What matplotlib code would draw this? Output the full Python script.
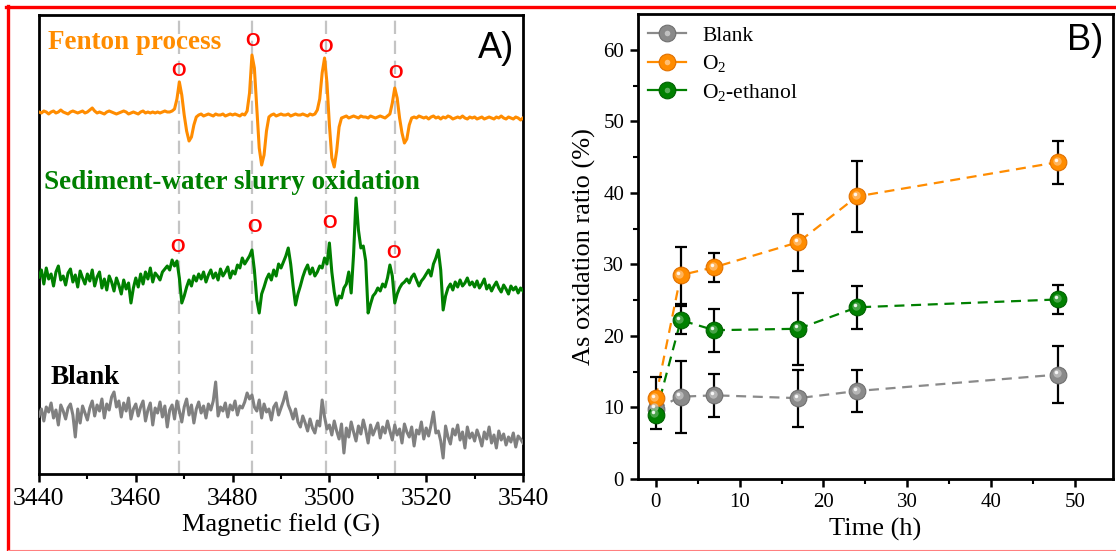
import numpy as np
import matplotlib
matplotlib.use("Agg")
import matplotlib.pyplot as plt
from matplotlib.lines import Line2D
from matplotlib.transforms import offset_copy
from matplotlib.legend_handler import HandlerTuple

plt.rcParams['font.family'] = 'Liberation Serif'
plt.rcParams['mathtext.fontset'] = 'custom'
plt.rcParams['mathtext.rm'] = 'Liberation Serif'
plt.rcParams['mathtext.it'] = 'Liberation Serif:italic'

# --- A) EPR spectra, 3440-3540 G sampled every 0.5 G (arbitrary units) ---
FIELD_START, FIELD_STEP = 3440.0, 0.5

fenton = [
    1, 0, 2, 1, -1, 1, 2, 0, 1, 3, 1, 0, -1, 1, 2, 1, 0, 1, 2, 0,
    1, 3, 5, 2, 0, 1, 0, -1, 1, 2, 1, 0, -1, 0, 1, 2, 1, -1, 0, 1,
    0, -1, 1, 2, 0, 1, 0, 1, 0, 1, 0, 1, 2, 1, 1, 2, 4, 14, 31, 18,
    -2, -18, -28, -24, -12, -4, -2, -1, -3, -2, -1, -2, -3, -1, -2, -2, -1, -3, -2, -1,
    -2, -1, -2, -3, -1, -2, 2, 20, 58, 45, 5, -35, -52, -42, -18, -4, -2, -1, -3, -2,
    -1, -2, -2, -1, -3, -2, -1, -2, -2, -1, -2, -3, -1, -2, -1, 3, 14, 40, 55, 30,
    -12, -45, -54, -38, -14, -5, -4, -3, -5, -4, -3, -4, -5, -3, -4, -4, -5, -3, -4, -5,
    -4, -3, -4, -5, -3, -1, 10, 25, 15, -5, -20, -30, -26, -12, -5, -4, -5, -3, -4, -5,
    -4, -6, -4, -3, -5, -4, -6, -4, -5, -3, -4, -6, -5, -4, -5, -3, -5, -6, -4, -5,
    -4, -6, -5, -4, -6, -5, -4, -5, -6, -4, -5, -3, -5, -6, -4, -5, -6, -4, -5, -7,
    -5,
]

slurry = [
    5, 12, -2, 14, 3, 8, -4, 10, 16, 2, 6, -3, 9, 13, 0, 7, -5, 11, 4, -2,
    8, 1, 12, -4, 5, 10, -6, 3, -8, 6, 0, -9, 4, -3, -12, 2, -7, -1, -21, -6,
    4, -5, 8, -2, 10, 3, 14, 0, 9, 6, 2, 10, 13, 16, 12, 22, 16, 21, 4, -21,
    -14, -5, 2, -4, 6, 1, 8, 3, 10, 0, 7, 12, 4, 9, 2, 13, 6, 10, 15, 4,
    11, 8, 17, 14, 24, 18, 22, 26, 32, 12, -18, -31, -12, -5, 3, 8, 2, 12, 6, 18,
    14, 20, 26, 34, 18, -4, -23, -12, -4, 5, 12, 17, 8, 14, 6, 10, 16, 14, 24, 18,
    39, 10, -10, -23, -14, -16, -6, -2, 10, -11, 28, 84, 52, 34, 36, 21, -31, -22, -14, -11,
    -6, -9, -2, -5, 4, 17, 6, -21, -12, -6, -2, 0, 3, -1, 5, 8, 2, -4, 1, 4,
    8, 12, 6, 18, 24, 32, 12, -28, -14, -6, -2, -8, 0, -5, 2, -4, -1, 4, -3, 0,
    -5, 1, -6, -2, 3, -7, -3, -9, -4, 0, -6, -10, -3, -7, -12, -4, -8, -5, -11, -6,
    -9,
]

blank_epr = [
    -3, 4, -8, 6, 1, 10, -5, 3, -12, 8, 2, -6, 5, 9, -2, -24, 4, -10, 7, 0,
    -7, 5, 12, -3, 8, 2, 14, -5, 9, 3, 16, 21, 6, 12, -4, 10, 2, 15, -6, 4,
    9, -3, 6, 12, -8, 3, 10, -12, 5, 0, 11, -4, 7, -14, 3, 8, -6, 12, 2, -9,
    6, 14, -2, 8, -10, 4, 11, 0, 7, -5, 9, 3, 12, 31, -3, 6, 2, 10, -4, 8,
    3, 12, -2, 7, 5, 11, 20, 14, 18, 6, 2, 13, -5, 9, 1, 4, -7, 6, 10, -2,
    5, 12, 21, 8, 2, -6, 4, -9, -14, -3, -10, -18, -6, -15, -20, -8, -13, 13, -4, -16,
    -12, -22, -8, -18, -26, -11, -40, -15, -24, -9, -19, -28, -13, -21, -7, -17, -30, -12, -22, -16,
    -10, -25, -14, -20, -8, -18, -27, -12, -22, -16, -30, -11, -19, -24, -14, -33, -17, -21, -9, -26,
    -15, -23, -12, 1, -20, -18, -28, -45, -13, -24, -31, -16, -22, -12, -27, -19, -35, -14, -25, -20,
    -28, -17, -24, -33, -19, -26, -14, -30, -22, -35, -18, -27, -21, -32, -24, -29, -20, -34, -23, -26,
    -30,
]

# DMPO-OH quartet line positions (G)
quartet_lines = [3468.9, 3484.1, 3499.2, 3513.6]

# --- B) As oxidation ratio ---
time_h = [0, 3, 7, 17, 24, 48]
blank = [9.8, 11.5, 11.7, 11.3, 12.3, 14.6]
blank_err = [1.0, 5.0, 3.0, 4.0, 3.0, 4.0]
o2 = [11.3, 28.5, 29.6, 33.1, 39.5, 44.3]
o2_err = [3.0, 4.0, 2.0, 4.0, 5.0, 3.0]
o2_eth = [9.0, 22.2, 20.8, 21.0, 24.0, 25.1]
o2_eth_err = [2.0, 2.0, 3.0, 5.0, 3.0, 2.0]

ORANGE = '#ff8c00'
GREEN = '#008000'
GRAY = '#8a8a8a'

fig = plt.figure(figsize=(11.16, 5.51), dpi=100)
W, H = 1116, 551


def px_axes(x0, y0, x1, y1):
    return fig.add_axes([x0 / W, 1 - y1 / H, (x1 - x0) / W, (y1 - y0) / H])


# ---------------- panel A ----------------
axA = px_axes(39, 15, 523, 474)
field = FIELD_START + FIELD_STEP * np.arange(len(fenton))

for xv in quartet_lines:
    axA.axvline(xv, color='#c4c4c4', lw=1.6, ls=(0, (6, 3)), zorder=1)

axA.plot(field, np.array(fenton) + 361, color=ORANGE, lw=2.2, zorder=3)
axA.plot(field, np.array(slurry) + 192, color=GREEN, lw=2.2, zorder=3)
axA.plot(field, np.array(blank_epr) + 61, color='#808080', lw=2.2, zorder=3)

# markers for the quartet peaks
o_fenton = [(3468.9, 403), (3484.2, 432), (3499.1, 427), (3513.6, 401)]
o_slurry = [(3468.7, 227), (3484.5, 247), (3500.0, 250), (3513.3, 221)]
for xv, yv in o_fenton + o_slurry:
    axA.text(xv, yv, 'O', color='red', fontsize=13.5, fontweight='bold',
             family='Liberation Sans', ha='center', va='center', zorder=5)

axA.text(0.019, 0.941, 'Fenton process', transform=axA.transAxes, color=ORANGE,
         fontsize=19.5, fontweight='bold', va='center', ha='left')
axA.text(0.010, 0.634, 'Sediment-water slurry oxidation', transform=axA.transAxes,
         color=GREEN, fontsize=19.5, fontweight='bold', va='center', ha='left')
axA.text(0.023, 0.211, 'Blank', transform=axA.transAxes, color='black',
         fontsize=19.5, fontweight='bold', va='center', ha='left')
axA.text(0.981, 0.928, 'A)', transform=axA.transAxes, family='Liberation Sans',
         fontsize=26, ha='right', va='center')

axA.set_xlim(3440, 3540)
axA.set_ylim(0, 459)
axA.set_yticks([])
axA.set_xticks(np.arange(3440, 3541, 20))
axA.set_xticks(np.arange(3450, 3541, 20), minor=True)
axA.tick_params(axis='x', which='major', direction='out', length=6, width=1.8,
                labelsize=18.5, pad=4)
axA.tick_params(axis='x', which='minor', direction='out', length=3.5, width=1.5)
axA.set_xlabel('Magnetic field (G)', fontsize=19, labelpad=3)
for sp in axA.spines.values():
    sp.set_linewidth(2.0)

# ---------------- panel B ----------------
axB = px_axes(638, 14, 1113, 479)


def sphere_series(ax, x, y, err, color, edge, shine):
    ax.plot(x, y, ls=(0, (4.5, 3)), lw=1.6, color=color, zorder=2)
    ax.errorbar(x, y, yerr=err, fmt='none', ecolor='black', elinewidth=1.6,
                capsize=4.2, capthick=1.6, zorder=3)
    ax.plot(x, y, 'o', ms=12, mfc=color, mec=edge, mew=0.8, zorder=4)
    tr1 = offset_copy(ax.transData, fig=fig, x=-1.5, y=1.5, units='dots')
    ax.plot(x, y, 'o', ms=6, mfc=shine, mec='none', alpha=0.7, transform=tr1, zorder=5)
    tr2 = offset_copy(ax.transData, fig=fig, x=-2.5, y=2.5, units='dots')
    ax.plot(x, y, 'o', ms=2.5, mfc='white', mec='none', alpha=0.9, transform=tr2, zorder=6)
    line = Line2D([], [], ls='-', lw=1.6, color=color, marker='o', ms=12,
                  mfc=color, mec=edge, mew=0.8)
    shine_h = Line2D([], [], ls='none', marker='o', ms=4, mfc=shine, mec='none', alpha=0.9)
    return (line, shine_h)


h_blank = sphere_series(axB, time_h, blank, blank_err, GRAY, '#707070', '#c8c8c8')
h_o2 = sphere_series(axB, time_h, o2, o2_err, ORANGE, '#e07000', '#ffc580')
h_eth = sphere_series(axB, time_h, o2_eth, o2_eth_err, GREEN, '#006000', '#66b366')

axB.legend([h_blank, h_o2, h_eth], ['Blank', 'O$_2$', 'O$_2$-ethanol'],
           handler_map={tuple: HandlerTuple(ndivide=1, pad=0)},
           loc='upper left', bbox_to_anchor=(0.02, 0.975), frameon=False,
           fontsize=15.5, handlelength=1.8, handletextpad=0.75, labelspacing=0.35,
           borderpad=0, borderaxespad=0)

axB.text(0.979, 0.942, 'B)', transform=axB.transAxes, family='Liberation Sans',
         fontsize=26, ha='right', va='center')

axB.set_xlim(-2.1, 54.5)
axB.set_ylim(0, 65)
axB.set_xticks(np.arange(0, 51, 10))
axB.set_xticks(np.arange(5, 55, 10), minor=True)
axB.set_yticks(np.arange(0, 61, 10))
axB.set_yticks(np.arange(5, 65, 10), minor=True)
axB.tick_params(which='major', direction='out', length=6, width=1.8, labelsize=15, pad=4)
axB.tick_params(which='minor', direction='out', length=3.5, width=1.5)
axB.set_xlabel('Time (h)', fontsize=19, labelpad=4)
axB.set_ylabel('As oxidation ratio (%)', fontsize=19, labelpad=5)
for sp in axB.spines.values():
    sp.set_linewidth(2.0)

# red frame round the figure
fig.add_artist(Line2D([6 / W, 1], [1 - 7 / H, 1 - 7 / H], color='red', lw=2.4,
                      transform=fig.transFigure))
fig.add_artist(Line2D([7.5 / W, 7.5 / W], [0, 1 - 6 / H], color='red', lw=2.4,
                      transform=fig.transFigure))
fig.add_artist(Line2D([8 / W, 1], [1.5 / H, 1.5 / H], color='#ff8080', lw=0.8,
                      transform=fig.transFigure))

fig.savefig('out.png', dpi=100)
